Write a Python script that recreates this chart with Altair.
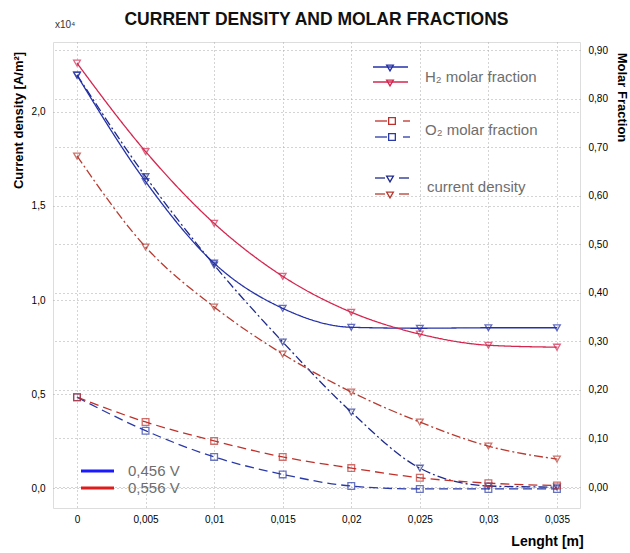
import altair as alt
import pandas as pd

# ---------------- data ----------------
length = [0, 0.005, 0.01, 0.015, 0.02, 0.025, 0.03, 0.035]
h2_456 = [0.848, 0.629, 0.461, 0.368, 0.329, 0.327, 0.328, 0.328]
h2_556 = [0.873, 0.691, 0.543, 0.434, 0.360, 0.315, 0.292, 0.288]
o2_456 = [0.185, 0.116, 0.062, 0.026, 0.002, -0.004, -0.004, -0.004]
o2_556 = [0.185, 0.134, 0.095, 0.062, 0.039, 0.019, 0.008, 0.003]
cd_456 = [2.197, 1.656, 1.186, 0.777, 0.404, 0.106, 0.011, 0.005]   # x10^4 A/m2
cd_556 = [1.766, 1.282, 0.963, 0.713, 0.511, 0.351, 0.223, 0.154]   # x10^4 A/m2

x_ticks = [0, 0.005, 0.01, 0.015, 0.02, 0.025, 0.03, 0.035]
left_ticks = [0, 0.5, 1.0, 1.5, 2.0]
right_ticks = [0, 0.1, 0.2, 0.3, 0.4, 0.5, 0.6, 0.7, 0.8, 0.9]

keys = ["H2 456", "H2 556", "O2 456", "O2 556", "CD 456", "CD 556"]
key_colors = ["#2431a8", "#d4264f", "#2a3aa8", "#c0302a", "#1f2b8c", "#b83a30"]

def frame(key, vals):
    return pd.DataFrame({"x": length, "v": vals, "key": key})

df_h2 = pd.concat([frame("H2 456", h2_456), frame("H2 556", h2_556)])
df_o2 = pd.concat([frame("O2 456", o2_456), frame("O2 556", o2_556)])
df_cd = pd.concat([frame("CD 456", cd_456), frame("CD 556", cd_556)])

FONT = "Liberation Sans"
color = alt.Color("key:N", scale=alt.Scale(domain=keys, range=key_colors), legend=None)
xenc = alt.X("x:Q", scale=alt.Scale(domain=[-0.00175, 0.03668], nice=False, zero=False),
             axis=alt.Axis(values=x_ticks, labelExpr="replace(format(datum.value, '.3~f'), '.', ',')",
                           title="Lenght [m]", titleX=494, titleY=33, titleAlign="center",
                           titleBaseline="middle", titleFontSize=14, titleFontWeight="bold",
                           labelPadding=6, ticks=False, tickSize=0, domain=False,
                           grid=True, gridDash=[1, 3], gridColor="#a8a8a8"))

yl_scale = alt.Scale(domain=[-0.106, 2.372], nice=False, zero=False)
yr_scale = alt.Scale(domain=[-0.0432, 0.9165], nice=False, zero=False)

yl_axis = alt.Axis(values=left_ticks, labelExpr="replace(format(datum.value, '.1f'), '.', ',')",
                   title="Current density [A/m²]", titleX=-35, titleY=78, titleAngle=-90,
                   titleAlign="center", titleBaseline="middle", titleFontSize=13,
                   titleFontWeight="bold", labelPadding=8, ticks=False, tickSize=0, domain=False,
                   grid=True, gridDash=[1, 3], gridColor="#a8a8a8")
yr_axis = alt.Axis(orient="right", values=right_ticks,
                   labelExpr="replace(format(datum.value, '.2f'), '.', ',')",
                   title="Molar Fraction", titleX=41, titleY=55, titleAngle=90,
                   titleAlign="center", titleBaseline="middle", titleFontSize=13,
                   titleFontWeight="bold", labelPadding=8, ticks=False, tickSize=0, domain=False,
                   grid=True, gridDash=[1, 3], gridColor="#a8a8a8")

def series(df, yscale, yaxis, dash, shape):
    base = alt.Chart(df).encode(x=xenc, y=alt.Y("v:Q", scale=yscale, axis=yaxis), color=color,
                                detail="key:N")
    line = base.mark_line(interpolate="monotone", strokeWidth=1.3, strokeDash=dash)
    pts = base.mark_point(shape=shape, filled=False, size=45, strokeWidth=1.3)
    return line, pts

cd_line, cd_pts = series(df_cd, yl_scale, yl_axis, [9, 3, 2, 3], "triangle-down")
h2_line, h2_pts = series(df_h2, yr_scale, yr_axis, [1, 0], "triangle-down")
o2_line, o2_pts = series(df_o2, yr_scale, yr_axis, [9, 5], "square")

cd_layer = alt.layer(cd_line, cd_pts)
molar_layer = alt.layer(o2_line, o2_pts, h2_line, h2_pts)

# ---------------- legend marks (positions in view pixels) ----------------
one = pd.DataFrame({"a": [1]})

def seg(x1, x2, y, col, w=1.3):
    return alt.Chart(one).mark_rule(color=col, strokeWidth=w).encode(
        x=alt.value(x1), x2=alt.value(x2), y=alt.value(y))

def sym(x, y, col, shape):
    return alt.Chart(one).mark_point(shape=shape, filled=False, size=45, strokeWidth=1.3,
                                     color=col, opacity=1).encode(x=alt.value(x), y=alt.value(y))

def txt(s, x, y, size, col="#6e6e6e", weight="normal"):
    return alt.Chart(pd.DataFrame({"t": [s]})).mark_text(
        align="left", baseline="middle", fontSize=size, color=col, font=FONT,
        fontWeight=weight).encode(x=alt.value(x), y=alt.value(y), text="t:N")

legend = [
    seg(320, 355, 25, "#2431a8"), sym(337, 26, "#2431a8", "triangle-down"),
    seg(320, 355, 40, "#d4264f"), sym(337, 41, "#d4264f", "triangle-down"),
    txt("H₂ molar fraction", 372, 35, 15),
    seg(322, 334, 79, "#c0302a"), sym(339, 79, "#c0302a", "square"), seg(350, 357, 79, "#c0302a"),
    seg(322, 334, 95, "#2a3aa8"), sym(339, 95, "#2a3aa8", "square"), seg(350, 357, 95, "#2a3aa8"),
    txt("O₂ molar fraction", 372, 88, 15),
    seg(322, 332, 136, "#1f2b8c"), sym(337, 137, "#1f2b8c", "triangle-down"), seg(346, 356, 136, "#1f2b8c"),
    seg(322, 332, 152, "#b83a30"), sym(337, 153, "#b83a30", "triangle-down"), seg(346, 356, 152, "#b83a30"),
    txt("current density", 374, 145, 15),
    seg(28, 61, 429, "#1a1aff", 3), txt("0,456 V", 75, 429, 15),
    seg(28, 61, 446, "#e01b1b", 3), txt("0,556 V", 75, 446, 15),
    txt("x10⁴", 2, -17, 10, "#333333"),
]

chart = alt.layer(cd_layer, molar_layer, *legend).resolve_scale(y="independent").properties(
    width=527, height=466,
    title=alt.TitleParams("CURRENT DENSITY AND MOLAR FRACTIONS", fontSize=17.5, font=FONT,
                          fontWeight="bold", color="#111111", anchor="middle", offset=-8),
    autosize=alt.AutoSizeParams(type="none"),
    padding={"left": 53, "top": 42, "right": 50, "bottom": 45},
).configure_view(stroke="#333333", strokeWidth=2).configure_axis(
    labelFont=FONT, titleFont=FONT, labelFontSize=11, labelColor="#222222", titleColor="#222222"
).configure(background="white")

chart.save("out.html", embed_options={"renderer": "svg", "actions": False})
